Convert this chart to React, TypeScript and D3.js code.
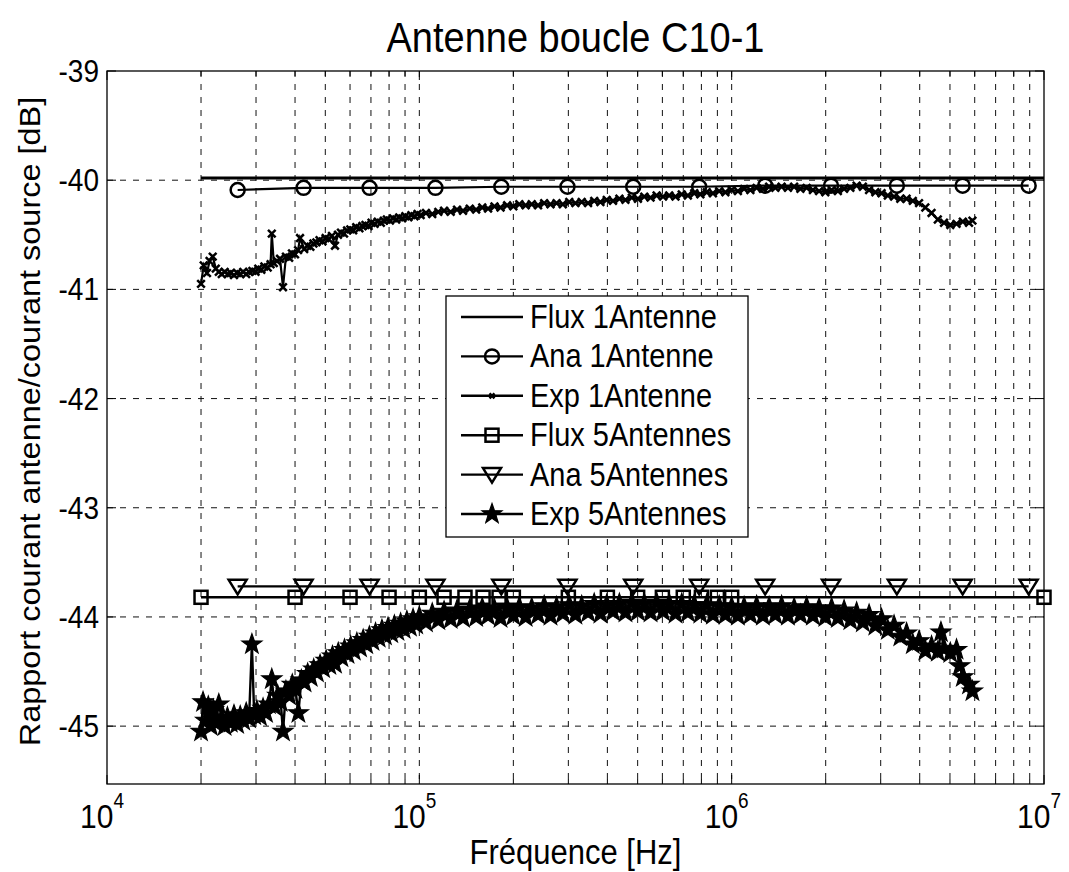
import React from "react";
import * as d3 from "d3";

const TITLE = "Antenne boucle C10-1";
const XLABEL = "Fréquence [Hz]";
const YLABEL = "Rapport courant antenne/courant source [dB]";
const X_DECADES = [4, 5, 6, 7];
const Y_TICKS = [-45, -44, -43, -42, -41, -40, -39];

const FLUX1_FREQ = [2e4, 1e7];
const FLUX1_DB = [-39.98, -39.98];

const ANA_FREQ = [26200, 42600, 69300, 112600, 183000, 298000, 484000, 787000, 1280000, 2080000, 3380000, 5490000, 8930000];
const ANA1_DB = [-40.09, -40.07, -40.07, -40.07, -40.06, -40.06, -40.06, -40.06, -40.05, -40.05, -40.05, -40.05, -40.05];
const ANA5_DB = [-43.72, -43.72, -43.72, -43.72, -43.72, -43.72, -43.72, -43.72, -43.72, -43.72, -43.72, -43.72, -43.72];

const FLUX5_FREQ = [2e4, 4e4, 6e4, 8e4, 1e5, 1.2e5, 1.4e5, 1.6e5, 1.8e5, 2e5, 3e5, 4e5, 5e5, 6e5, 7e5, 8e5, 9e5, 1e6, 1e7];
const FLUX5_DB = [-43.82, -43.82, -43.82, -43.82, -43.82, -43.82, -43.82, -43.82, -43.82, -43.82, -43.82, -43.82, -43.82, -43.82, -43.82, -43.82, -43.82, -43.82, -43.82];

// [kHz, dB]
const EXP1 = [
  [20, -40.95], [20.4, -40.78], [20.9, -40.85], [21.3, -40.74], [21.8, -40.7], [22.3, -40.81], [22.8, -40.84], [23.3, -40.86], [23.8, -40.84], [24.4, -40.86],
  [24.9, -40.85], [25.5, -40.87], [26.1, -40.85], [26.7, -40.86], [27.3, -40.84], [27.9, -40.86], [28.5, -40.84], [29.2, -40.83], [29.9, -40.84], [30.5, -40.81],
  [31.2, -40.82], [31.9, -40.79], [32.7, -40.8], [33.4, -40.77], [33.7, -40.49], [34.2, -40.76], [35.0, -40.74], [35.8, -40.72], [36.6, -40.98], [37.4, -40.7],
  [38.3, -40.71], [39.1, -40.67], [40.0, -40.68], [40.9, -40.64], [41.5, -40.53], [42.8, -40.63], [43.8, -40.6], [44.8, -40.61], [45.8, -40.58], [46.8, -40.57],
  [47.9, -40.55], [49.0, -40.56], [50.1, -40.53], [51.3, -40.54], [52.5, -40.51], [53.7, -40.6], [54.9, -40.5], [56.1, -40.48], [57.4, -40.49], [58.7, -40.46],
  [60.1, -40.45], [61.4, -40.46], [62.8, -40.43], [64.3, -40.44], [65.7, -40.42], [67.2, -40.41], [68.8, -40.42], [70.3, -40.39], [71.9, -40.4], [73.6, -40.38],
  [75.3, -40.39], [77.0, -40.37], [78.7, -40.36], [80.5, -40.37], [82.4, -40.35], [84.3, -40.36], [86.2, -40.34], [88.1, -40.35], [90.2, -40.33], [92.2, -40.34],
  [94.3, -40.32], [96.5, -40.33], [98.7, -40.31], [101, -40.32], [105, -40.3], [110, -40.31], [115, -40.29], [120, -40.28], [126, -40.29], [132, -40.27],
  [138, -40.28], [145, -40.26], [152, -40.27], [159, -40.25], [166, -40.26], [174, -40.24], [182, -40.25], [191, -40.23], [200, -40.24], [209, -40.22],
  [219, -40.23], [229, -40.22], [240, -40.23], [251, -40.21], [263, -40.22], [275, -40.21], [288, -40.22], [302, -40.2], [316, -40.21], [331, -40.2],
  [347, -40.21], [363, -40.19], [380, -40.2], [398, -40.18], [417, -40.19], [437, -40.17], [457, -40.18], [479, -40.16], [501, -40.17], [525, -40.15],
  [550, -40.16], [575, -40.14], [603, -40.15], [631, -40.14], [661, -40.15], [692, -40.13], [724, -40.14], [759, -40.12], [794, -40.13], [832, -40.11],
  [871, -40.12], [912, -40.1], [955, -40.11], [1000, -40.09], [1047, -40.1], [1096, -40.08], [1148, -40.09], [1202, -40.07], [1259, -40.08], [1318, -40.06],
  [1380, -40.07], [1445, -40.06], [1514, -40.07], [1585, -40.06], [1660, -40.08], [1738, -40.07], [1820, -40.09], [1905, -40.1], [1995, -40.11], [2089, -40.09],
  [2188, -40.1], [2291, -40.08], [2399, -40.07], [2512, -40.05], [2630, -40.06], [2754, -40.09], [2884, -40.11], [3020, -40.12], [3162, -40.14], [3311, -40.15],
  [3467, -40.17], [3631, -40.17], [3802, -40.19], [3981, -40.21], [4169, -40.25], [4365, -40.3], [4571, -40.36], [4786, -40.39], [5012, -40.41], [5248, -40.4],
  [5495, -40.38], [5754, -40.39], [5900, -40.37],
];

const EXP5 = [
  [20, -45.05], [20.3, -44.78], [20.7, -44.95], [21.1, -44.82], [21.5, -45.0], [21.9, -44.85], [22.3, -44.97], [22.8, -44.8], [23.3, -44.93], [23.8, -45.0],
  [24.3, -44.92], [24.9, -44.97], [25.5, -44.9], [26.1, -44.98], [26.7, -44.91], [27.3, -44.95], [27.9, -44.88], [28.5, -44.93], [29.1, -44.25], [29.6, -44.9],
  [30.2, -44.86], [30.9, -44.91], [31.6, -44.84], [32.3, -44.88], [33.0, -44.8], [33.7, -44.57], [34.4, -44.82], [35.2, -44.72], [36.0, -44.78], [36.6, -45.05],
  [37.4, -44.68], [38.3, -44.72], [39.2, -44.62], [40.1, -44.66], [41.0, -44.88], [41.9, -44.58], [42.9, -44.6], [43.9, -44.52], [44.9, -44.55], [45.9, -44.48],
  [47.0, -44.51], [48.1, -44.44], [49.2, -44.47], [50.3, -44.4], [51.5, -44.44], [52.7, -44.36], [53.7, -44.43], [55.0, -44.33], [56.3, -44.37], [57.6, -44.3],
  [58.9, -44.34], [60.3, -44.27], [61.7, -44.31], [63.1, -44.24], [64.6, -44.28], [66.1, -44.21], [67.6, -44.25], [69.2, -44.18], [70.8, -44.22], [72.4, -44.15],
  [74.1, -44.19], [75.9, -44.12], [77.6, -44.17], [79.4, -44.1], [81.3, -44.15], [83.2, -44.08], [85.1, -44.13], [87.1, -44.06], [89.1, -44.11], [91.2, -44.04],
  [93.3, -44.09], [95.5, -44.02], [97.7, -44.07], [100, -44.0], [105, -44.05], [110, -43.97], [115, -44.03], [120, -43.95], [126, -44.02], [132, -43.94],
  [138, -44.01], [145, -43.93], [152, -44.0], [159, -43.92], [166, -43.99], [174, -43.93], [182, -44.01], [191, -43.92], [200, -43.99], [209, -43.91],
  [219, -44.0], [229, -43.92], [240, -43.98], [251, -43.9], [263, -43.99], [275, -43.91], [288, -43.97], [302, -43.89], [316, -43.98], [331, -43.9],
  [347, -43.96], [363, -43.88], [380, -43.97], [398, -43.89], [417, -43.95], [437, -43.88], [457, -43.96], [479, -43.87], [501, -43.95], [525, -43.88],
  [550, -43.96], [575, -43.87], [603, -43.95], [631, -43.88], [661, -43.97], [692, -43.88], [724, -43.96], [759, -43.89], [794, -43.97], [832, -43.89],
  [871, -43.98], [912, -43.9], [955, -43.98], [1000, -43.91], [1047, -43.99], [1096, -43.91], [1148, -43.98], [1202, -43.9], [1259, -43.99], [1318, -43.91],
  [1380, -43.98], [1445, -43.9], [1514, -43.99], [1585, -43.92], [1660, -43.98], [1738, -43.91], [1820, -43.99], [1905, -43.92], [1995, -44.0], [2089, -43.92],
  [2188, -44.01], [2291, -43.94], [2399, -44.03], [2512, -43.96], [2630, -44.05], [2754, -43.98], [2884, -44.08], [3020, -44.02], [3162, -44.12], [3311, -44.08],
  [3467, -44.18], [3631, -44.15], [3802, -44.25], [3981, -44.22], [4169, -44.31], [4365, -44.27], [4571, -44.32], [4677, -44.14], [4786, -44.29], [5012, -44.33],
  [5248, -44.3], [5370, -44.45], [5495, -44.55], [5754, -44.62], [5900, -44.68],
];

const LEGEND = ["Flux 1Antenne", "Ana 1Antenne", "Exp 1Antenne", "Flux 5Antennes", "Ana 5Antennes", "Exp 5Antennes"];
const MARKERS = ["none", "circle", "x", "square", "triangle", "star"];

const FONT = "'Liberation Sans', Arial, Helvetica, sans-serif";
const L = 107, R = 1044, T = 71, B = 784;
const SY = 1.12;

function starPath(cx: number, cy: number, ro: number, ri: number) {
  const pts: string[] = [];
  for (let i = 0; i < 10; i++) {
    const a = -Math.PI / 2 + (i * Math.PI) / 5;
    const r = i % 2 === 0 ? ro : ri;
    pts.push(`${(cx + r * Math.cos(a)).toFixed(2)},${(cy + r * Math.sin(a)).toFixed(2)}`);
  }
  return "M" + pts.join("L") + "Z";
}

function Marker({ type, x, y, legend }: { type: string; x: number; y: number; legend?: boolean }) {
  const sw = 2.5;
  if (type === "circle") return <circle cx={x} cy={y} r={7} fill="none" stroke="#000" strokeWidth={sw} />;
  if (type === "square") return <rect x={x - 6.5} y={y - 6.5} width={13} height={13} fill="none" stroke="#000" strokeWidth={sw} />;
  if (type === "triangle")
    return <path d={`M${x - 9},${y - 6.5}L${x + 9},${y - 6.5}L${x},${y + 8}Z`} fill="none" stroke="#000" strokeWidth={sw} />;
  if (type === "x") {
    const s = legend ? 2.5 : 3.8;
    return <path d={`M${x - s},${y - s}L${x + s},${y + s}M${x - s},${y + s}L${x + s},${y - s}`} stroke="#000" strokeWidth={2.5} />;
  }
  if (type === "star") return <path d={starPath(x, y, 10.5, 4.2)} fill="#000" stroke="#000" strokeWidth={1.2} />;
  return null;
}

function Txt({ x, y, size, anchor, children, rotate }: any) {
  return (
    <g transform={`translate(${x},${y})${rotate ? ` rotate(${rotate})` : ""} scale(${rotate ? SY : 1},${rotate ? 1 : SY})`}>
      <text x={0} y={0} textAnchor={anchor || "start"} fontSize={size}>
        {children}
      </text>
    </g>
  );
}

export default function App() {
  const x = d3.scaleLog().domain([1e4, 1e7]).range([L, R]);
  const y = d3.scaleLinear().domain([-45.53, -39]).range([B, T]);
  const line = d3.line<[number, number]>().x((d) => x(d[0])).y((d) => y(d[1]));

  const minor: number[] = [];
  for (let e = 4; e < 7; e++) for (let m = 2; m <= 9; m++) minor.push(m * Math.pow(10, e));
  const major = X_DECADES.map((e) => Math.pow(10, e));

  const flux1 = FLUX1_FREQ.map((f, i) => [f, FLUX1_DB[i]] as [number, number]);
  const ana1 = ANA_FREQ.map((f, i) => [f, ANA1_DB[i]] as [number, number]);
  const ana5 = ANA_FREQ.map((f, i) => [f, ANA5_DB[i]] as [number, number]);
  const flux5 = FLUX5_FREQ.map((f, i) => [f, FLUX5_DB[i]] as [number, number]);
  const exp1 = EXP1.map((d) => [d[0] * 1000, d[1]] as [number, number]);
  const exp5 = EXP5.map((d) => [d[0] * 1000, d[1]] as [number, number]);

  const gridStyle = { stroke: "#111", strokeWidth: 1, strokeDasharray: "6,7" };

  const lgX = 446, lgY = 296, lgW = 302, lgH = 241;
  const rowH = 39.4;

  return (
    <svg width={1069} height={872} style={{ position: "absolute", left: 0, top: 0, background: "#fff" }} fontFamily={FONT}>
      <rect x={0} y={0} width={1069} height={872} fill="#fff" />
      <defs>
        <clipPath id="plotclip">
          <rect x={L} y={T - 10} width={R - L + 12} height={B - T + 10} />
        </clipPath>
      </defs>
      {/* grid */}
      {[...major, ...minor].filter((v) => x(v) > L + 1 && x(v) < R - 1).map((v, i) => (
        <line key={"gx" + i} x1={x(v)} x2={x(v)} y1={T} y2={B} {...gridStyle} />
      ))}
      {Y_TICKS.filter((v) => y(v) > T + 1).map((v, i) => (
        <line key={"gy" + i} x1={L} x2={R} y1={y(v)} y2={y(v)} {...gridStyle} />
      ))}
      {/* ticks */}
      {major.map((v, i) => (
        <g key={"tmx" + i}>
          <line x1={x(v)} x2={x(v)} y1={B} y2={B - 9} stroke="#000" strokeWidth={1} />
          <line x1={x(v)} x2={x(v)} y1={T} y2={T + 9} stroke="#000" strokeWidth={1} />
        </g>
      ))}
      {minor.map((v, i) => (
        <g key={"tnx" + i}>
          <line x1={x(v)} x2={x(v)} y1={B} y2={B - 5} stroke="#000" strokeWidth={1} />
          <line x1={x(v)} x2={x(v)} y1={T} y2={T + 5} stroke="#000" strokeWidth={1} />
        </g>
      ))}
      {Y_TICKS.map((v, i) => (
        <g key={"ty" + i}>
          <line x1={L} x2={L + 9} y1={y(v)} y2={y(v)} stroke="#000" strokeWidth={1} />
          <line x1={R} x2={R - 9} y1={y(v)} y2={y(v)} stroke="#000" strokeWidth={1} />
        </g>
      ))}
      {/* frame */}
      <rect x={L} y={T} width={R - L} height={B - T} fill="none" stroke="#000" strokeWidth={1.3} />

      {/* series */}
      <g clipPath="url(#plotclip)">
        <path d={line(flux1) || ""} fill="none" stroke="#000" strokeWidth={2.8} />
        <path d={line(ana1) || ""} fill="none" stroke="#000" strokeWidth={2.2} />
        {ana1.map((d, i) => <Marker key={"a1" + i} type="circle" x={x(d[0])} y={y(d[1])} />)}
        <path d={line(exp1) || ""} fill="none" stroke="#000" strokeWidth={2.2} />
        {exp1.map((d, i) => <Marker key={"e1" + i} type="x" x={x(d[0])} y={y(d[1])} />)}
        <path d={line(flux5) || ""} fill="none" stroke="#000" strokeWidth={2.4} />
        {flux5.map((d, i) => <Marker key={"f5" + i} type="square" x={x(d[0])} y={y(d[1])} />)}
        <path d={line(ana5) || ""} fill="none" stroke="#000" strokeWidth={2.4} />
        {ana5.map((d, i) => <Marker key={"a5" + i} type="triangle" x={x(d[0])} y={y(d[1])} />)}
        <path d={line(exp5) || ""} fill="none" stroke="#000" strokeWidth={2.4} />
        {exp5.map((d, i) => <Marker key={"e5" + i} type="star" x={x(d[0])} y={y(d[1])} />)}
      </g>

      {/* tick labels */}
      {Y_TICKS.map((v, i) => (
        <Txt key={"yl" + i} x={99} y={y(v) + 11} size={28} anchor="end">
          {v}
        </Txt>
      ))}
      {X_DECADES.map((e, i) => (
        <Txt key={"xl" + i} x={x(Math.pow(10, e)) - 5} y={828} size={30} anchor="middle">
          10
          <tspan fontSize={19} dy={-18}>{e}</tspan>
        </Txt>
      ))}

      {/* labels */}
      <Txt x={(L + R) / 2} y={52} size={38} anchor="middle">{TITLE}</Txt>
      <Txt x={(L + R) / 2} y={864} size={31} anchor="middle">{XLABEL}</Txt>
      <Txt x={40} y={(T + B) / 2 - 6} size={29} anchor="middle" rotate={-90}>{YLABEL}</Txt>

      {/* legend */}
      <rect x={lgX} y={lgY} width={lgW} height={lgH} fill="#fff" stroke="#000" strokeWidth={1.3} />
      {LEGEND.map((name, i) => {
        const cy = lgY + 21 + i * rowH;
        return (
          <g key={"lg" + i}>
            <line x1={lgX + 15} x2={lgX + 77} y1={cy} y2={cy} stroke="#000" strokeWidth={2.4} />
            <Marker type={MARKERS[i]} x={lgX + 46} y={cy} legend />
            <Txt x={lgX + 84} y={cy + 11} size={29}>{name}</Txt>
          </g>
        );
      })}
    </svg>
  );
}
